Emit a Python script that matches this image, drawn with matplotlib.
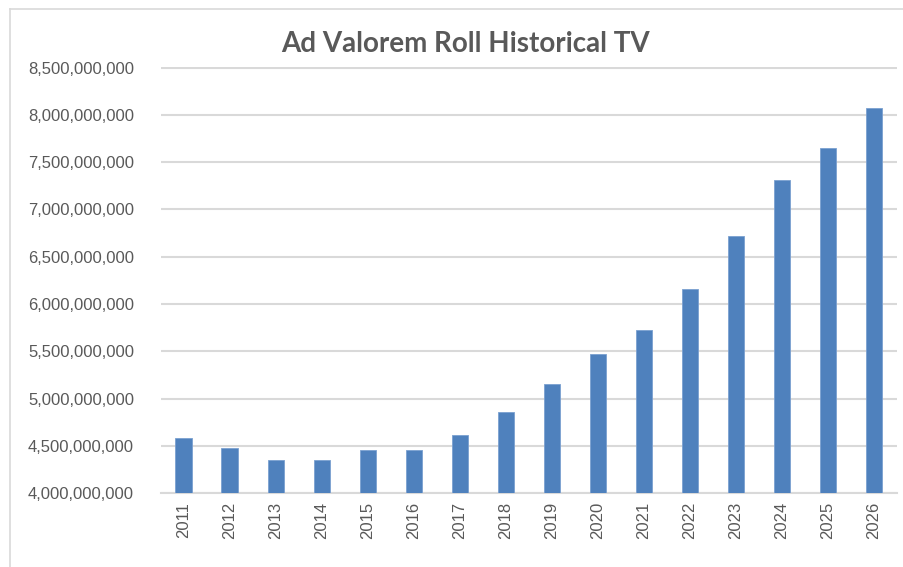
import matplotlib
matplotlib.use("Agg")
import matplotlib.pyplot as plt
from matplotlib.ticker import FuncFormatter, MultipleLocator
from matplotlib.lines import Line2D

plt.rcParams["font.family"] = ["Liberation Sans", "DejaVu Sans"]

years = [str(y) for y in range(2011, 2027)]
values = [4.589e9, 4.474e9, 4.356e9, 4.356e9, 4.453e9, 4.453e9, 4.62e9, 4.854e9,
          5.154e9, 5.475e9, 5.722e9, 6.158e9, 6.714e9, 7.306e9, 7.653e9, 8.072e9]
title = "Ad Valorem Roll Historical TV"

fig = plt.figure(figsize=(9.04, 5.67), dpi=100)
ax = fig.add_axes([160.5 / 904, 1 - 493.3 / 567, (897 - 160.5) / 904, (493.3 - 67.5) / 567])

ax.bar(range(len(years)), values, width=0.35, color="#4f81bd", edgecolor="#7aa0d0", linewidth=0.6, zorder=3)
ax.set_xlim(-0.5, len(years) - 0.5)
ax.set_ylim(4.0e9, 8.5e9)
ax.yaxis.set_major_locator(MultipleLocator(5e8))
ax.yaxis.set_major_formatter(FuncFormatter(lambda v, p: f"{int(round(v)):,}"))
ax.set_xticks(range(len(years)))
ax.set_xticklabels(years, rotation=90)
ax.grid(axis="y", color="#d9d9d9", linewidth=1.5, zorder=0)
for s in ["top", "right", "left"]:
    ax.spines[s].set_visible(False)
ax.spines["bottom"].set_color("#d9d9d9")
ax.spines["bottom"].set_linewidth(1.5)
ax.tick_params(axis="both", length=0, labelsize=12, labelcolor="#595959")
ax.tick_params(axis="y", pad=19)
ax.tick_params(axis="x", pad=6)

fig.text(465 / 904, 1 - 44 / 567, title, ha="center", va="center", fontsize=20,
         fontweight="bold", color="#595959", family="Lato")

# chart border (top and left visible)
fig.add_artist(Line2D([10 / 904, 10 / 904], [0, 1 - 9 / 567], transform=fig.transFigure, color="#d9d9d9", linewidth=1.2))
fig.add_artist(Line2D([10 / 904, 1], [1 - 9 / 567, 1 - 9 / 567], transform=fig.transFigure, color="#d9d9d9", linewidth=1.2))

fig.savefig("out.png", dpi=100)
